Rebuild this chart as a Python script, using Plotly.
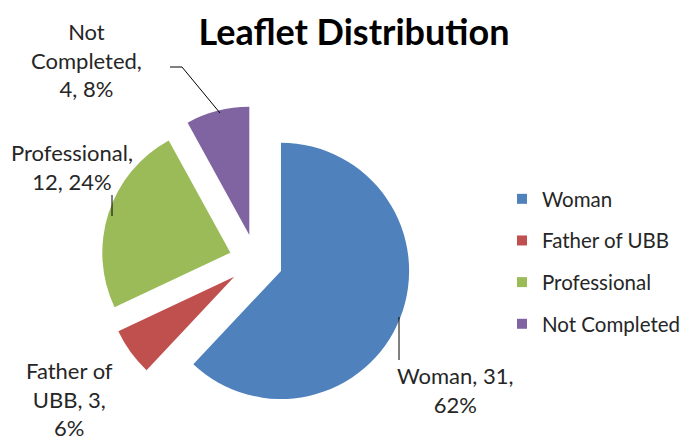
import plotly.graph_objects as go

categories = ["Woman", "Father of UBB", "Professional", "Not Completed"]
values = [31, 3, 12, 4]
colors = ["#4F81BD", "#C0504D", "#9BBB59", "#8064A2"]
title_text = "Leaflet Distribution"

W, H = 692, 440
FONT = "Lato"
TXT = "#262626"

def px(x):
    return x / W

def py(y):
    return 1 - y / H

total = sum(values)
pcts = [round(v * 100 / total) for v in values]

fig = go.Figure()

fig.add_trace(go.Pie(
    labels=categories,
    values=values,
    sort=False,
    direction="clockwise",
    rotation=0,
    pull=[0.21] * len(values),
    marker=dict(colors=colors, line=dict(width=0)),
    textinfo="none",
    showlegend=False,
    domain=dict(x=[px(93), px(403)], y=[py(408), py(98)]),
))

# legend entries (one per category) so that row spacing can match
for i, (c, col) in enumerate(zip(categories, colors)):
    fig.add_trace(go.Scatter(
        x=[None], y=[None], mode="markers", name=c,
        marker=dict(symbol="square", size=10, color=col),
        legendgroup=f"g{i}", showlegend=True,
    ))

# data labels
lab = {c: (v, p) for c, v, p in zip(categories, values, pcts)}
label_specs = [
    ("Not Completed", "Not<br>Completed,<br>{v}, {p}%", 78, 52),
    ("Professional", "Professional,<br>{v}, {p}%", 64, 159),
    ("Father of UBB", "Father of<br>UBB, {v},<br>{p}%", 61, 391),
    ("Woman", "Woman, {v},<br>{p}%", 447, 382),
]
for name, tmpl, x, y in label_specs:
    v, p = lab[name]
    fig.add_annotation(
        x=px(x), y=py(y), xref="paper", yref="paper",
        text=tmpl.format(v=v, p=p), showarrow=False,
        font=dict(family=FONT, size=22, color=TXT),
        align="center", xanchor="center", yanchor="middle",
    )

# leader lines
lines = [
    [(162, 59), (174, 59), (212, 105)],
    [(104, 187), (104, 208)],
    [(391, 309), (391, 352)],
]
for pts in lines:
    for (x0, y0), (x1, y1) in zip(pts[:-1], pts[1:]):
        fig.add_shape(type="line", xref="paper", yref="paper",
                      x0=px(x0), y0=py(y0), x1=px(x1), y1=py(y1),
                      line=dict(color="#000000", width=1))

fig.update_layout(
    width=W, height=H,
    margin=dict(l=0, r=0, t=0, b=0),
    paper_bgcolor="white", plot_bgcolor="white",
    title=dict(text=f"<b>{title_text}</b>", x=px(346), y=py(24),
               xanchor="center", yanchor="middle",
               font=dict(family=FONT, size=36, color="#000000")),
    xaxis=dict(visible=False), yaxis=dict(visible=False),
    legend=dict(x=px(494), y=py(171), xanchor="left", yanchor="top",
                font=dict(family=FONT, size=20.5, color=TXT),
                tracegroupgap=12, itemclick=False, itemdoubleclick=False,
                bgcolor="rgba(0,0,0,0)"),
    showlegend=True,
)

fig.write_html("out.html")
